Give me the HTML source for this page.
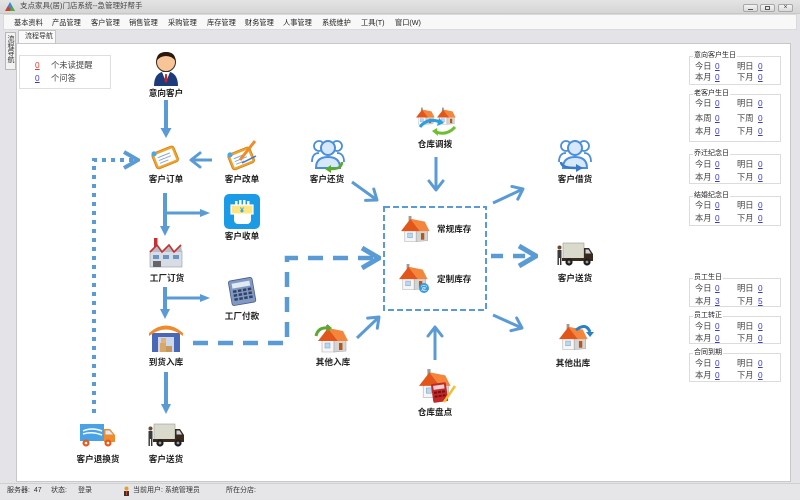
<!DOCTYPE html>
<html><head><meta charset="utf-8">
<style>
*{margin:0;padding:0;box-sizing:border-box}
body{width:800px;height:500px;overflow:hidden;background:#e4e4e8;font-family:"Liberation Sans","Noto Sans CJK SC",sans-serif;position:relative;color:#222}
.a{position:absolute;white-space:nowrap}
.m{font-size:7.2px;line-height:10px;top:18px;color:#222}
.gb{position:absolute;left:689px;width:92px;border:1px solid #dcdcdc;background:#fff}
.gt{font-size:7px;line-height:9px;background:#fff;padding:0 1px;color:#222}
.r{font-size:8.3px;line-height:10px;color:#444}
.v{font-size:8.3px;line-height:10px;color:#3a3acc;text-decoration:underline}
.st{font-size:7px;line-height:10px;top:486px;color:#333}
</style></head><body>

<!-- title bar -->
<div class="a" style="left:0;top:0;width:800px;height:14px;background:linear-gradient(#e4e4e4,#d5d5d5);border-bottom:1px solid #c8c8c8"></div>
<svg class="a" style="left:5px;top:2px" width="10" height="9"><polygon points="5,0 10,9 0,9" fill="#3a8ad0"/><polygon points="3,4 7,9 0,9" fill="#e03a2a"/><polygon points="7,4 10,9 5,9" fill="#4ab030"/></svg>
<div class="a" style="left:20px;top:1px;font-size:7.5px;line-height:10px;color:#444">支点家具(居)门店系统--急管理好帮手</div>
<div class="a" style="left:743px;top:4px;width:15px;height:8px;border:1px solid #a8a8a8;border-radius:2px;background:linear-gradient(#f4f4f4,#dadada)"><div class="a" style="left:4px;top:4px;width:5px;height:1px;background:#555"></div></div>
<div class="a" style="left:760px;top:4px;width:15px;height:8px;border:1px solid #a8a8a8;border-radius:2px;background:linear-gradient(#f4f4f4,#dadada)"><div class="a" style="left:4px;top:1px;width:5px;height:4px;border:1px solid #555"></div></div>
<div class="a" style="left:778px;top:4px;width:15px;height:8px;border:1px solid #a8a8a8;border-radius:2px;background:linear-gradient(#f4f4f4,#dadada);font-size:7px;line-height:6px;text-align:center;color:#444">×</div>

<!-- menu bar -->
<div class="a" style="left:3px;top:14px;width:794px;height:16px;background:#f8f8f8;border:1px solid #dadada"></div>
<div class="a m" style="left:14px">基本资料</div>
<div class="a m" style="left:52px">产品管理</div>
<div class="a m" style="left:91px">客户管理</div>
<div class="a m" style="left:129px">销售管理</div>
<div class="a m" style="left:168px">采购管理</div>
<div class="a m" style="left:207px">库存管理</div>
<div class="a m" style="left:245px">财务管理</div>
<div class="a m" style="left:283px">人事管理</div>
<div class="a m" style="left:322px">系统维护</div>
<div class="a m" style="left:361px">工具(T)</div>
<div class="a m" style="left:395px">窗口(W)</div>

<!-- tabs -->
<div class="a" style="left:5px;top:32px;width:11px;height:38px;border:1px solid #b8b8b8;background:#f2f2f2"></div>
<div class="a" style="left:6px;top:35px;writing-mode:vertical-rl;font-size:7px;line-height:9px;color:#333">流程导航</div>
<div class="a" style="left:18px;top:30px;width:38px;height:14px;border:1px solid #c4c4c4;border-bottom:none;background:#fafafa;font-size:7px;line-height:12px;padding-left:6px;color:#333">流程导航</div>

<!-- content -->
<div class="a" style="left:16px;top:43px;width:775px;height:439px;background:#fff;border:1px solid #c8c8c8"></div>

<!-- notice box -->
<div class="a" style="left:19px;top:55px;width:92px;height:34px;border:1px solid #dedede"></div>
<div class="a v" style="left:35px;top:60px;color:#e33">0</div>
<div class="a r" style="left:51px;top:60px">个未读提醒</div>
<div class="a v" style="left:35px;top:73px">0</div>
<div class="a r" style="left:51px;top:73px">个问答</div>

<!-- right panels -->
<div class="gb" style="top:56px;height:29px"></div>
<div class="gb" style="top:94px;height:48px"></div>
<div class="gb" style="top:154px;height:30px"></div>
<div class="gb" style="top:196px;height:30px"></div>
<div class="gb" style="top:278px;height:29px"></div>
<div class="gb" style="top:316px;height:28px"></div>
<div class="gb" style="top:353px;height:29px"></div>

<div class="a gt" style="left:693px;top:51px">意向客户生日</div>
<div class="a r" style="left:695px;top:61px">今日</div><div class="a v" style="left:715px;top:61px">0</div><div class="a r" style="left:737px;top:61px">明日</div><div class="a v" style="left:758px;top:61px">0</div>
<div class="a r" style="left:695px;top:72px">本月</div><div class="a v" style="left:715px;top:72px">0</div><div class="a r" style="left:737px;top:72px">下月</div><div class="a v" style="left:758px;top:72px">0</div>

<div class="a gt" style="left:693px;top:89px">老客户生日</div>
<div class="a r" style="left:695px;top:98px">今日</div><div class="a v" style="left:715px;top:98px">0</div><div class="a r" style="left:737px;top:98px">明日</div><div class="a v" style="left:758px;top:98px">0</div>
<div class="a r" style="left:695px;top:113px">本周</div><div class="a v" style="left:715px;top:113px">0</div><div class="a r" style="left:737px;top:113px">下周</div><div class="a v" style="left:758px;top:113px">0</div>
<div class="a r" style="left:695px;top:126px">本月</div><div class="a v" style="left:715px;top:126px">0</div><div class="a r" style="left:737px;top:126px">下月</div><div class="a v" style="left:758px;top:126px">0</div>

<div class="a gt" style="left:693px;top:149px">乔迁纪念日</div>
<div class="a r" style="left:695px;top:159px">今日</div><div class="a v" style="left:715px;top:159px">0</div><div class="a r" style="left:737px;top:159px">明日</div><div class="a v" style="left:758px;top:159px">0</div>
<div class="a r" style="left:695px;top:172px">本月</div><div class="a v" style="left:715px;top:172px">0</div><div class="a r" style="left:737px;top:172px">下月</div><div class="a v" style="left:758px;top:172px">0</div>

<div class="a gt" style="left:693px;top:191px">结婚纪念日</div>
<div class="a r" style="left:695px;top:200px">今日</div><div class="a v" style="left:715px;top:200px">0</div><div class="a r" style="left:737px;top:200px">明日</div><div class="a v" style="left:758px;top:200px">0</div>
<div class="a r" style="left:695px;top:213px">本月</div><div class="a v" style="left:715px;top:213px">0</div><div class="a r" style="left:737px;top:213px">下月</div><div class="a v" style="left:758px;top:213px">0</div>

<div class="a gt" style="left:693px;top:273px">员工生日</div>
<div class="a r" style="left:695px;top:283px">今日</div><div class="a v" style="left:715px;top:283px">0</div><div class="a r" style="left:737px;top:283px">明日</div><div class="a v" style="left:758px;top:283px">0</div>
<div class="a r" style="left:695px;top:296px">本月</div><div class="a v" style="left:715px;top:296px">3</div><div class="a r" style="left:737px;top:296px">下月</div><div class="a v" style="left:758px;top:296px">5</div>

<div class="a gt" style="left:693px;top:311px">员工转正</div>
<div class="a r" style="left:695px;top:321px">今日</div><div class="a v" style="left:715px;top:321px">0</div><div class="a r" style="left:737px;top:321px">明日</div><div class="a v" style="left:758px;top:321px">0</div>
<div class="a r" style="left:695px;top:333px">本月</div><div class="a v" style="left:715px;top:333px">0</div><div class="a r" style="left:737px;top:333px">下月</div><div class="a v" style="left:758px;top:333px">0</div>

<div class="a gt" style="left:693px;top:348px">合同到期</div>
<div class="a r" style="left:695px;top:358px">今日</div><div class="a v" style="left:715px;top:358px">0</div><div class="a r" style="left:737px;top:358px">明日</div><div class="a v" style="left:758px;top:358px">0</div>
<div class="a r" style="left:695px;top:370px">本月</div><div class="a v" style="left:715px;top:370px">0</div><div class="a r" style="left:737px;top:370px">下月</div><div class="a v" style="left:758px;top:370px">0</div>

<!-- status bar -->
<div class="a" style="left:0;top:483px;width:800px;height:17px;background:#e6e6e8;border-top:1px solid #d0d0d0"></div>
<div class="a st" style="left:7px">服务器:&nbsp; 47</div>
<div class="a st" style="left:51px">状态:</div>
<div class="a st" style="left:78px">登录</div>
<svg class="a" style="left:123px;top:486px" width="7" height="10"><circle cx="3.5" cy="2.5" r="2" fill="#e0a030"/><rect x="1" y="5" width="5" height="5" fill="#333"/><rect x="3" y="5" width="1" height="4" fill="#e04020"/></svg>
<div class="a st" style="left:133px">当前用户: 系统管理员</div>
<div class="a st" style="left:226px">所在分店:</div>

<!-- diagram -->
<svg class="a" style="left:0;top:0" width="800" height="500" font-family="Liberation Sans, Noto Sans CJK SC, sans-serif">
<defs>
<marker id="ch" viewBox="-12 -9 14 18" refX="0" refY="0" markerWidth="14" markerHeight="18" orient="auto" markerUnits="userSpaceOnUse"><path d="M-9,-7 L0,0 L-9,7" fill="none" stroke="#5b9bd5" stroke-width="3" stroke-linecap="round" stroke-linejoin="round"/></marker>
<marker id="chm" viewBox="-18 -11 20 22" refX="0" refY="0" markerWidth="20" markerHeight="22" orient="auto" markerUnits="userSpaceOnUse"><path d="M-14,-8 L0,0 L-14,8" fill="none" stroke="#5b9bd5" stroke-width="4" stroke-linejoin="miter"/></marker>
<marker id="chb" viewBox="-22 -13 24 26" refX="0" refY="0" markerWidth="24" markerHeight="26" orient="auto" markerUnits="userSpaceOnUse"><path d="M-17,-10 L0,0 L-17,10" fill="none" stroke="#5b9bd5" stroke-width="5"/></marker>
<g id="house">
<rect x="8" y="1" width="3" height="7" fill="#9a9a9a"/>
<polygon points="4,15 16,15 16,28 4,28" fill="#f6f6f6" stroke="#b0b0b0" stroke-width=".6"/>
<polygon points="16,15 28,16 28,27 16,28" fill="#d4d4d4" stroke="#a8a8a8" stroke-width=".6"/>
<polygon points="0,17 10,4 20,17" fill="#e3561a"/>
<polygon points="10,4 25,7 30,17 20,17" fill="#f5853a"/>
<rect x="7" y="19" width="5" height="5" fill="#b9d6f2" stroke="#7a9cc0" stroke-width=".5"/>
<rect x="21" y="19" width="3.5" height="7" fill="#b35a1a"/>
</g>
<g id="truck">
<rect x="6" y="1" width="21" height="16" fill="#d9d9cc" stroke="#9a9a90" stroke-width=".6"/>
<path d="M27,6 H32 L36,12 V18 H27 Z" fill="#3a2a1e"/>
<path d="M28.5,7.5 H31.5 L34,11.5 H28.5 Z" fill="#c9d4dc"/>
<rect x="5" y="16" width="31" height="3" fill="#3a2a1e"/>
<circle cx="12" cy="20" r="3.6" fill="#1e1e1e"/><circle cx="12" cy="20" r="1.4" fill="#999"/>
<circle cx="30" cy="20" r="3.6" fill="#1e1e1e"/><circle cx="30" cy="20" r="1.4" fill="#999"/>
<rect x="0.5" y="8" width="4" height="8" fill="#3a3a3a"/>
<circle cx="2.5" cy="5.5" r="2" fill="#6b4a30"/>
<rect x="0.5" y="16" width="1.4" height="7" fill="#333"/><rect x="3" y="16" width="1.4" height="7" fill="#333"/>
</g>
<g id="clip">
<g transform="rotate(-22 14 11)">
<rect x="2" y="3" width="24" height="17" rx="3" fill="#f0a22a" stroke="#cf7a10" stroke-width=".7"/>
<rect x="4.5" y="5.5" width="19" height="12" fill="#fff"/>
<line x1="7" y1="9" x2="20" y2="9" stroke="#8aaad0" stroke-width="1"/>
<line x1="7" y1="12" x2="20" y2="12" stroke="#8aaad0" stroke-width="1"/>
<line x1="7" y1="15" x2="16" y2="15" stroke="#8aaad0" stroke-width="1"/>
<circle cx="5" cy="4" r="2.6" fill="#4aa8e8"/>
</g>
</g>
<g id="pers">
<circle cx="8" cy="9" r="5" fill="#fff" stroke="#4a8fdc" stroke-width="1.8"/>
<circle cx="26" cy="9" r="5" fill="#fff" stroke="#4a8fdc" stroke-width="1.8"/>
<path d="M1,25 Q1,16 8,16 M33,25 Q33,16 26,16" fill="none" stroke="#4a8fdc" stroke-width="1.8"/>
<circle cx="17" cy="11" r="7" fill="#d8e8fb" stroke="#4a8fdc" stroke-width="2"/>
<path d="M5,31 Q5,20 17,20 Q29,20 29,31 Z" fill="#d8e8fb" stroke="#4a8fdc" stroke-width="2"/>
</g>
</defs>

<!-- arrows -->
<g stroke="#5b9bd5" fill="none">
<line x1="166" y1="100" x2="166" y2="129" stroke-width="4"/>
<line x1="165" y1="193" x2="165" y2="227" stroke-width="4"/>
<line x1="165" y1="213" x2="202" y2="213" stroke-width="3"/>
<line x1="165" y1="287" x2="165" y2="310" stroke-width="4"/>
<line x1="165" y1="298" x2="202" y2="298" stroke-width="3"/>
<line x1="166" y1="372" x2="166" y2="405" stroke-width="4"/>
<line x1="212" y1="160" x2="191" y2="160" stroke-width="3" marker-end="url(#ch)"/>
<line x1="352" y1="182" x2="377" y2="200" stroke-width="3" marker-end="url(#ch)"/>
<line x1="357" y1="338" x2="379" y2="317" stroke-width="3" marker-end="url(#ch)"/>
<line x1="493" y1="203" x2="523" y2="189" stroke-width="3" marker-end="url(#ch)"/>
<line x1="493" y1="315" x2="522" y2="328" stroke-width="3" marker-end="url(#ch)"/>
<line x1="436" y1="157" x2="436" y2="190" stroke-width="3" marker-end="url(#ch)"/>
<line x1="435" y1="360" x2="435" y2="327" stroke-width="3" marker-end="url(#ch)"/>
<path d="M94,413 V160 H138" stroke-width="4" stroke-dasharray="4 5" marker-end="url(#chm)"/>
<path d="M193,343 H287 V258 H379" stroke-width="4.5" stroke-dasharray="15 10" marker-end="url(#chb)"/>
<path d="M491,256 H536" stroke-width="4.5" stroke-dasharray="12 10" marker-end="url(#chb)"/>
<rect x="384" y="207" width="102" height="103" stroke-width="2" stroke-dasharray="6 3"/>
</g>
<g fill="#5b9bd5">
<polygon points="160.5,128 171.5,128 166,138"/>
<polygon points="160,226 170,226 165,236"/>
<polygon points="200,209 200,217 210,213"/>
<polygon points="160,309 170,309 165,319"/>
<polygon points="200,294 200,302 210,298"/>
<polygon points="161,404 171,404 166,414"/>
</g>

<!-- icons -->
<!-- 意向客户 -->
<path d="M154,86 Q154,72 166,71 Q178,72 178,86 Z" fill="#1d3b7a"/>
<path d="M162,72 L166,82 L170,72 Z" fill="#fff"/>
<path d="M165.2,74 L166.8,74 L167.5,81 L166,83 L164.5,81Z" fill="#d02020"/>
<circle cx="166" cy="62" r="9.5" fill="#f7c596" stroke="#3a2a20" stroke-width="1"/>
<path d="M156.5,61 Q156.5,52 166,52 Q175.5,52 175.5,61 Q172,56 166,56 Q160,56 156.5,61Z" fill="#2a1a10"/>

<use href="#clip" transform="translate(151,146)"/>
<use href="#clip" transform="translate(227,147)"/>
<line x1="240" y1="160" x2="255" y2="141" stroke="#f08a2a" stroke-width="3"/>
<line x1="242" y1="163" x2="256" y2="156" stroke="#3a7ad8" stroke-width="1.5"/>

<!-- 客户收单 -->
<rect x="224" y="194" width="36" height="35" rx="5" fill="#1b9be6"/>
<rect x="234" y="207" width="17" height="17" rx="4" fill="#fff"/>
<rect x="235" y="201" width="2.5" height="8" fill="#fff"/><rect x="239" y="200" width="2.5" height="8" fill="#fff"/><rect x="243" y="200" width="2.5" height="8" fill="#fff"/><rect x="247" y="201" width="2.5" height="8" fill="#fff"/>
<rect x="231" y="205" width="22" height="9" fill="#ffe680" stroke="#fff" stroke-width="1.2"/>
<text x="242" y="212.5" font-size="7" text-anchor="middle" fill="#1b9be6" font-weight="bold">¥</text>

<!-- 工厂订货 -->
<rect x="154" y="238" width="3.5" height="14" fill="#c83030"/>
<rect x="150" y="251" width="32" height="16" fill="#d8dce4" stroke="#9a9aa4" stroke-width=".6"/>
<polygon points="150,252 157,245 162,252 169,245 174,252 181,245 182,252" fill="#b8bcc6"/>
<polyline points="150,252 157,245 162,252 169,245 174,252 181,245" fill="none" stroke="#c83030" stroke-width="1.6"/>
<rect x="153" y="255" width="6" height="4" fill="#6a94c8"/><rect x="163" y="255" width="6" height="4" fill="#6a94c8"/><rect x="173" y="255" width="6" height="4" fill="#6a94c8"/>
<rect x="153" y="261" width="8" height="6" fill="#666"/>

<!-- 工厂付款 calculator -->
<g transform="rotate(-10 242 291)">
<rect x="230" y="279" width="24" height="25" rx="2" fill="#8099c4" stroke="#4a5f88" stroke-width=".8"/>
<rect x="233" y="282" width="18" height="5" fill="#e2eaf2"/>
<g fill="#33425f">
<rect x="233" y="289" width="3.5" height="2.5"/><rect x="238" y="289" width="3.5" height="2.5"/><rect x="243" y="289" width="3.5" height="2.5"/><rect x="248" y="289" width="3.5" height="2.5"/>
<rect x="233" y="293" width="3.5" height="2.5"/><rect x="238" y="293" width="3.5" height="2.5"/><rect x="243" y="293" width="3.5" height="2.5"/><rect x="248" y="293" width="3.5" height="2.5"/>
<rect x="233" y="297" width="3.5" height="2.5"/><rect x="238" y="297" width="3.5" height="2.5"/><rect x="243" y="297" width="3.5" height="2.5"/><rect x="248" y="297" width="3.5" height="2.5"/>
</g></g>

<!-- 到货入库 -->
<rect x="152" y="333" width="28" height="19" fill="#4b68b8"/>
<rect x="158" y="337" width="16" height="15" fill="#d0d6ea"/>
<rect x="160" y="343" width="6" height="9" fill="#d8a868"/><rect x="166" y="346" width="6" height="6" fill="#c89858"/><rect x="161" y="338" width="5" height="5" fill="#e0b478"/>
<path d="M149,333 Q166,318 183,333 L183,336 Q166,323 149,336 Z" fill="#f08a2a"/>

<!-- trucks -->
<use href="#truck" transform="translate(148,423)"/>
<use href="#truck" transform="translate(557,242)"/>
<g transform="translate(80,422)">
<rect x="0" y="2" width="24" height="17" fill="#4aa2e6"/>
<path d="M3,9 Q12,5 22,9 M3,12 Q12,9 22,13" stroke="#fff" stroke-width="1.5" fill="none"/>
<path d="M24,7 H30 L35,13 V20 H24Z" fill="#f08a2c"/>
<path d="M25.5,8.5 H29.5 L33,12.5 H25.5Z" fill="#d8ecf8"/>
<circle cx="6" cy="21" r="3.5" fill="#e85a1a"/><circle cx="28" cy="21" r="3.5" fill="#e85a1a"/>
<circle cx="6" cy="21" r="1.3" fill="#fff"/><circle cx="28" cy="21" r="1.3" fill="#fff"/>
</g>

<!-- 客户还货 / 借货 -->
<use href="#pers" transform="translate(311,137)"/>
<path d="M342,162 Q342,169 331,169" stroke="#5aaa30" stroke-width="2.5" fill="none"/>
<polygon points="331,165 331,173 325,169" fill="#5aaa30"/>
<use href="#pers" transform="translate(558,137)"/>
<path d="M561,162 Q561,168 576,168" stroke="#3a78c8" stroke-width="2.5" fill="none"/>
<polygon points="576,164 576,172 583,168" fill="#3a78c8"/>

<!-- 仓库调拨 -->
<use href="#house" transform="translate(416,107) scale(.62)"/>
<use href="#house" transform="translate(437,107) scale(.62)"/>
<path d="M420,127 Q428,117 440,122" stroke="#2aa0e0" stroke-width="3" fill="none"/>
<polygon points="439,118 444,123 437,126" fill="#2aa0e0"/>
<path d="M455,127 Q447,136 436,132" stroke="#6cc030" stroke-width="3" fill="none"/>
<polygon points="437,128 432,131 438,136" fill="#6cc030"/>

<!-- inventory houses -->
<use href="#house" transform="translate(401,215) scale(.95)"/>
<use href="#house" transform="translate(399,263) scale(.95)"/>
<circle cx="424" cy="288" r="5" fill="#3a9ae0"/>
<text x="424" y="290.5" font-size="6" text-anchor="middle" fill="#fff">定</text>

<!-- 其他入库 / 出库 -->
<use href="#house" transform="translate(318,324) scale(1)"/>
<path d="M316,336 Q318,327 328,328" stroke="#5aaa30" stroke-width="3" fill="none"/>
<polygon points="327,324 332,328 327,332" fill="#5aaa30"/>
<use href="#house" transform="translate(559,323) scale(.95)"/>
<path d="M576,330 Q586,322 590,332" stroke="#2a80c8" stroke-width="3" fill="none"/>
<polygon points="586,332 594,332 590,337" fill="#2a80c8"/>

<!-- 仓库盘点 -->
<use href="#house" transform="translate(419,368) scale(1.05)"/>
<g transform="rotate(-8 440 392)">
<rect x="432" y="383" width="15" height="19" rx="1.5" fill="#c0282a"/>
<rect x="434" y="385" width="11" height="4" fill="#f0d0d0"/>
<g fill="#7a1010"><rect x="434" y="391" width="3" height="2"/><rect x="438" y="391" width="3" height="2"/><rect x="442" y="391" width="3" height="2"/><rect x="434" y="395" width="3" height="2"/><rect x="438" y="395" width="3" height="2"/><rect x="442" y="395" width="3" height="2"/></g>
</g>
<line x1="444" y1="402" x2="455" y2="386" stroke="#f0c030" stroke-width="2.5"/>

<!-- labels -->
<g font-size="8.6" font-weight="bold" fill="#222" text-anchor="middle">
<text x="166" y="96">意向客户</text>
<text x="166" y="182">客户订单</text>
<text x="242" y="182">客户改单</text>
<text x="242" y="239">客户收单</text>
<text x="167" y="281">工厂订货</text>
<text x="242" y="319">工厂付款</text>
<text x="166" y="365">到货入库</text>
<text x="98" y="462">客户退换货</text>
<text x="166" y="462">客户送货</text>
<text x="333" y="365">其他入库</text>
<text x="327" y="182">客户还货</text>
<text x="435" y="147">仓库调拨</text>
<text x="435" y="415">仓库盘点</text>
<text x="575" y="182">客户借货</text>
<text x="575" y="281">客户送货</text>
<text x="573" y="366">其他出库</text>
<text x="437" y="232" text-anchor="start">常规库存</text>
<text x="437" y="282" text-anchor="start">定制库存</text>
</g>
</svg>
</body></html>
